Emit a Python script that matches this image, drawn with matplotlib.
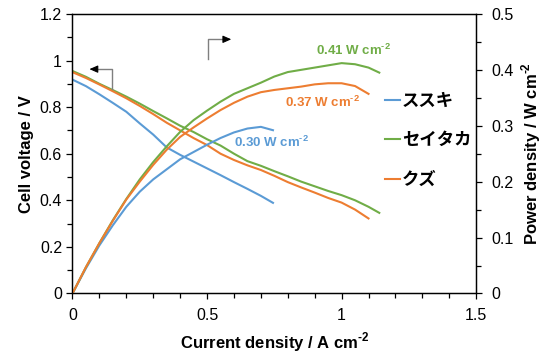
import matplotlib
matplotlib.use('Agg')
import matplotlib.pyplot as plt
from matplotlib.ticker import MultipleLocator, FuncFormatter

plt.rcParams['font.family'] = ['Liberation Sans', 'Noto Sans CJK JP']
plt.rcParams['mathtext.fontset'] = 'custom'
plt.rcParams['mathtext.rm'] = 'Liberation Sans'
plt.rcParams['mathtext.bf'] = 'Liberation Sans:bold'

# ススキ
susuki_i = [0, 0.05, 0.1, 0.15, 0.2, 0.25, 0.3, 0.35, 0.4, 0.45, 0.5, 0.55, 0.6, 0.65, 0.7, 0.745]
susuki_v = [0.918, 0.89, 0.855, 0.818, 0.78, 0.73, 0.682, 0.627, 0.595, 0.566, 0.537, 0.508, 0.478, 0.449, 0.419, 0.389]
susuki_p = [0, 0.045, 0.086, 0.122, 0.155, 0.182, 0.204, 0.222, 0.24, 0.253, 0.266, 0.278, 0.288, 0.295, 0.298, 0.292]

# セイタカ
seitaka_i = [0, 0.05, 0.1, 0.15, 0.2, 0.25, 0.3, 0.35, 0.4, 0.45, 0.5, 0.55, 0.6, 0.65, 0.7, 0.75,
             0.8, 0.85, 0.9, 0.95, 1.0, 1.05, 1.1, 1.14]
seitaka_v = [0.955, 0.93, 0.9, 0.873, 0.845, 0.815, 0.783, 0.752, 0.72, 0.693, 0.662, 0.635, 0.6, 0.568,
             0.548, 0.525, 0.503, 0.48, 0.46, 0.44, 0.422, 0.4, 0.372, 0.346]
seitaka_p = [0, 0.047, 0.09, 0.131, 0.169, 0.204, 0.235, 0.263, 0.289, 0.31, 0.327, 0.343, 0.357, 0.367,
             0.377, 0.388, 0.396, 0.4, 0.404, 0.408, 0.412, 0.41, 0.404, 0.395]

# クズ
kuzu_i = [0, 0.05, 0.1, 0.15, 0.2, 0.25, 0.3, 0.35, 0.4, 0.45, 0.5, 0.55, 0.6, 0.65, 0.7, 0.75,
          0.8, 0.85, 0.9, 0.95, 1.0, 1.05, 1.1]
kuzu_v = [0.95, 0.925, 0.897, 0.868, 0.838, 0.805, 0.77, 0.733, 0.7, 0.667, 0.637, 0.6, 0.573, 0.55,
          0.53, 0.505, 0.478, 0.455, 0.433, 0.41, 0.39, 0.36, 0.322]
kuzu_p = [0, 0.047, 0.09, 0.13, 0.168, 0.2, 0.23, 0.257, 0.28, 0.297, 0.313, 0.328, 0.341, 0.352,
          0.36, 0.364, 0.367, 0.37, 0.374, 0.376, 0.376, 0.371, 0.357]

names = ['ススキ', 'セイタカ', 'クズ']
colors = ['#5B9BD5', '#70AD47', '#ED7D31']

fig = plt.figure(figsize=(5.47, 3.57), dpi=100)
ax = fig.add_axes([0.1325, 0.178, 0.738, 0.783])
ax2 = ax.twinx()

series = [(susuki_i, susuki_v, susuki_p), (seitaka_i, seitaka_v, seitaka_p), (kuzu_i, kuzu_v, kuzu_p)]
for (i, v, p), name, c in zip(series, names, colors):
    ax.plot(i, v, color=c, lw=1.5, label=name)
    ax2.plot(i, p, color=c, lw=1.5)

ax.set_xlim(0, 1.5)
ax.set_ylim(0, 1.2)
ax2.set_ylim(0, 0.5)

fmt = FuncFormatter(lambda x, pos: f'{x:g}')
ax.xaxis.set_major_locator(MultipleLocator(0.5))
ax.xaxis.set_minor_locator(MultipleLocator(0.1))
ax.yaxis.set_major_locator(MultipleLocator(0.2))
ax.yaxis.set_minor_locator(MultipleLocator(0.1))
ax2.yaxis.set_major_locator(MultipleLocator(0.1))
ax2.yaxis.set_minor_locator(MultipleLocator(0.05))
for a in (ax, ax2):
    a.xaxis.set_major_formatter(fmt)
    a.yaxis.set_major_formatter(fmt)
    a.tick_params(which='both', direction='out', width=0.9, labelsize=11.5, color='black')
    a.tick_params(which='major', length=4.5)
    a.tick_params(which='minor', length=3.5)
    for s in a.spines.values():
        s.set_linewidth(0.9)
ax.tick_params(axis='y', pad=3)
ax.tick_params(axis='x', pad=6)
ax2.tick_params(axis='y', pad=6.5)

ax.set_xlabel('Current density / A cm$^{\\mathbf{‐2}}$', fontsize=12, fontweight='bold', labelpad=5)
ax.set_ylabel('Cell voltage / V', fontsize=12, fontweight='bold', labelpad=4)
ax2.set_ylabel('Power density / W cm$^{\\mathbf{‐2}}$', fontsize=12, fontweight='bold', labelpad=4)

# peak labels
ax2.text(1.043, 0.435, '0.41 W cm$^{\\mathbf{‐2}}$', color=colors[1], fontsize=9.5, fontweight='bold',
         ha='center', va='center')
ax2.text(0.928, 0.341, '0.37 W cm$^{\\mathbf{‐2}}$', color=colors[2], fontsize=9.5, fontweight='bold',
         ha='center', va='center')
ax2.text(0.74, 0.271, '0.30 W cm$^{\\mathbf{‐2}}$', color=colors[0], fontsize=9.5, fontweight='bold',
         ha='center', va='center')

# axis indicator arrows
ax.plot([0.145, 0.145, 0.085], [0.877, 0.963, 0.963], color='#7f7f7f', lw=1)
ax.annotate('', xy=(0.063, 0.963), xytext=(0.09, 0.963),
            arrowprops=dict(arrowstyle='-|>,head_length=0.5,head_width=0.22', color='black', lw=0.8,
                            shrinkA=0, shrinkB=0))
ax.plot([0.505, 0.505, 0.57], [1.005, 1.091, 1.091], color='#7f7f7f', lw=1)
ax.annotate('', xy=(0.59, 1.091), xytext=(0.563, 1.091),
            arrowprops=dict(arrowstyle='-|>,head_length=0.5,head_width=0.22', color='black', lw=0.8,
                            shrinkA=0, shrinkB=0))

leg = ax.legend(loc='upper left', bbox_to_anchor=(0.774, 0.714), frameon=False,
                prop={'size': 12.5, 'weight': 'bold'}, handlelength=0.86, handletextpad=0.12,
                labelspacing=1.35, borderaxespad=0, borderpad=0)

fig.savefig('out.png', dpi=100)
